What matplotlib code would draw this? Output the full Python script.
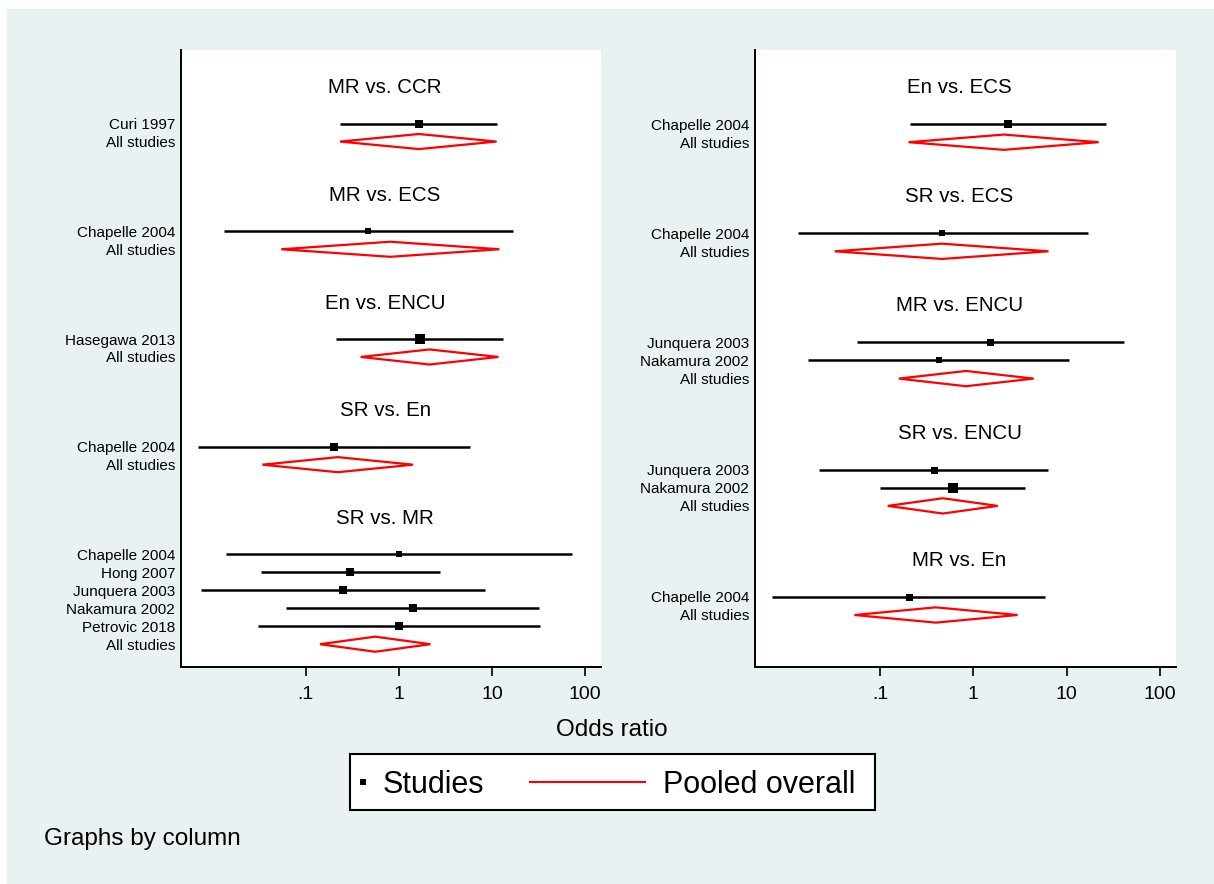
import numpy as np
import matplotlib.pyplot as plt
from matplotlib.patches import Polygon, Rectangle
from matplotlib.ticker import NullLocator
from matplotlib.transforms import blended_transform_factory

plt.rcParams['font.family'] = ['Liberation Sans', 'DejaVu Sans']

# ---- data (odds ratios) ----
left_titles = ["MR vs. CCR", "MR vs. ECS", "En vs. ENCU", "SR vs. En", "SR vs. MR"]
left_studies = [["Curi 1997"], ["Chapelle 2004"], ["Hasegawa 2013"], ["Chapelle 2004"],
                ["Chapelle 2004", "Hong 2007", "Junquera 2003", "Nakamura 2002", "Petrovic 2018"]]
left_or = [[1.64], [0.47], [1.68], [0.20], [0.99, 0.30, 0.25, 1.41, 1.00]]
left_lo = [[0.233], [0.0132], [0.212], [0.0070], [0.0139, 0.0329, 0.0075, 0.0619, 0.0304]]
left_hi = [[11.2], [16.6], [13.0], [5.78], [71.8, 2.73, 8.39, 31.6, 32.9]]
left_wt = [[78], [36], [86], [56], [40, 69, 50, 56, 50]]
left_pool_or = [1.64, 0.807, 2.13, 0.22, 0.556]
left_pool_lo = [0.233, 0.0545, 0.388, 0.0342, 0.142]
left_pool_hi = [11.2, 12.0, 11.7, 1.42, 2.18]

right_titles = ["En vs. ECS", "SR vs. ECS", "MR vs. ENCU", "SR vs. ENCU", "MR vs. En"]
right_studies = [["Chapelle 2004"], ["Chapelle 2004"], ["Junquera 2003", "Nakamura 2002"],
                 ["Junquera 2003", "Nakamura 2002"], ["Chapelle 2004"]]
right_or = [[2.35], [0.465], [1.52, 0.425], [0.380, 0.599], [0.204]]
right_lo = [[0.210], [0.0131], [0.0563, 0.0170], [0.0224, 0.0997], [0.0069]]
right_hi = [[26.5], [17.0], [41.0, 10.6], [6.37, 3.56], [5.90]]
right_wt = [[67], [35], [49, 40], [49, 112], [49]]
right_pool_or = [2.11, 0.46, 0.832, 0.470, 0.395]
right_pool_lo = [0.202, 0.0327, 0.159, 0.121, 0.0531]
right_pool_hi = [21.9, 6.37, 4.42, 1.82, 2.97]

x_ticks = [0.1, 1, 10, 100]
x_ticklabels = [".1", "1", "10", "100"]

# ---- layout ----
W, H = 1214, 884
BG = "#E9F1F3"

fig = plt.figure(figsize=(W / 100, H / 100), dpi=100, facecolor="white")
fig.patches.append(Rectangle((7 / W, 0), 1 - 7 / W, 1 - 9 / H, transform=fig.transFigure,
                             facecolor=BG, edgecolor="none", zorder=-10))


def px_axes(x0, y0, x1, y1):
    return fig.add_axes([x0 / W, 1 - y1 / H, (x1 - x0) / W, (y1 - y0) / H])


def draw_panel(ax, titles, studies, est, lo, hi, wt, p_est, p_lo, p_hi, ylim):
    trans = blended_transform_factory(ax.transAxes, ax.transData)
    row = 0
    ticks, labels = [], []
    for g in range(len(titles)):
        ax.text(0.486, row, titles[g], transform=trans, ha="center", va="center",
                fontsize=14.8)
        r = row + 2
        for i in range(len(studies[g])):
            ax.plot([lo[g][i], hi[g][i]], [r, r], color="black", lw=1.8,
                    solid_capstyle="butt", zorder=2)
            ax.plot(est[g][i], r, marker="s", ms=np.sqrt(wt[g][i]) * 0.72,
                    color="black", mew=0, zorder=3)
            ticks.append(r)
            labels.append(studies[g][i])
            r += 1
        d = 0.42
        ax.add_patch(Polygon([(p_lo[g], r), (p_est[g], r - d), (p_hi[g], r), (p_est[g], r + d)],
                             closed=True, fill=False, edgecolor="red", lw=1.6))
        ticks.append(r)
        labels.append("All studies")
        row = r + 3

    ax.set_xscale("log")
    ax.set_xlim(10 ** -2.34, 10 ** 2.17)
    ax.set_ylim(*ylim)
    ax.set_yticks(ticks, labels)
    ax.set_xticks(x_ticks, x_ticklabels)
    ax.xaxis.set_minor_locator(NullLocator())
    ax.tick_params(axis="y", length=0, pad=4.3, labelsize=11)
    ax.tick_params(axis="x", length=6.5, width=1.2, pad=7.5, labelsize=14)
    for lab in ax.get_yticklabels():
        lab.set_y(lab.get_position()[1])
    for s in ["top", "right"]:
        ax.spines[s].set_visible(False)
    for s in ["left", "bottom"]:
        ax.spines[s].set_linewidth(1.4)
    ax.set_facecolor("white")


ax1 = px_axes(181, 50, 601, 667)
draw_panel(ax1, left_titles, left_studies, left_or, left_lo, left_hi, left_wt,
           left_pool_or, left_pool_lo, left_pool_hi, (32.27, -2.10))

ax2 = px_axes(755, 50, 1176, 667)
draw_panel(ax2, right_titles, right_studies, right_or, right_lo, right_hi, right_wt,
           right_pool_or, right_pool_lo, right_pool_hi, (31.86, -2.07))

fig.text(612 / W, 1 - 730 / H, "Odds ratio", ha="center", va="center", fontsize=17.5)
fig.text(44 / W, 1 - 839 / H, "Graphs by column", ha="left", va="center", fontsize=17.5)

# legend box drawn by hand (Stata style)
leg = px_axes(350, 754, 875, 810)
leg.set_xlim(0, 525)
leg.set_ylim(0, 56)
leg.set_xticks([])
leg.set_yticks([])
for s in leg.spines.values():
    s.set_linewidth(1.5)
leg.set_facecolor("white")
leg.plot([12.5], [28], marker="s", ms=3.8, color="black", mew=0)
leg.text(33, 17, "Studies", fontsize=22, va="baseline", ha="left")
leg.plot([180, 295], [28, 28], color="red", lw=1.5)
leg.text(313, 17, "Pooled overall", fontsize=22, va="baseline", ha="left")

fig.savefig("out.png", dpi=100, facecolor=fig.get_facecolor())
